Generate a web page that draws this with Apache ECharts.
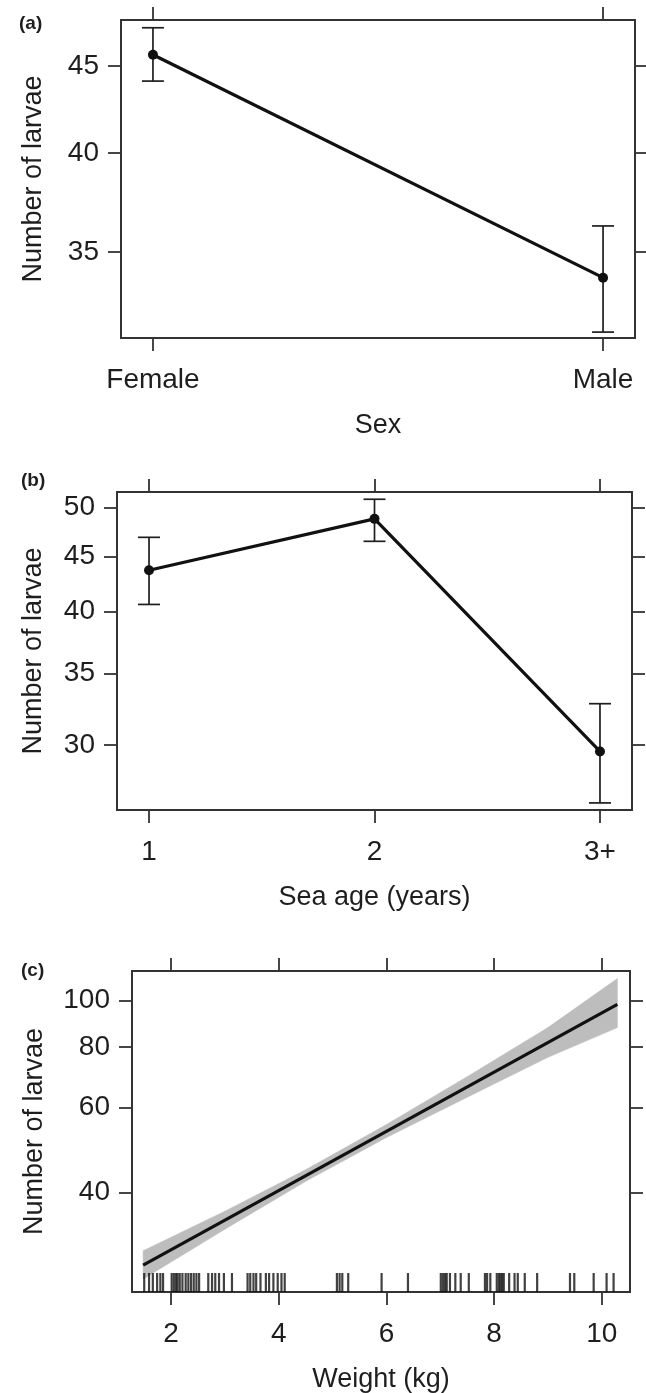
<!DOCTYPE html>
<html>
<head>
<meta charset="utf-8">
<script src="https://cdn.jsdelivr.net/npm/echarts@6/dist/echarts.min.js"></script>
<style>
  html, body { margin: 0; padding: 0; background: #fff; }
  #chart { width: 646px; height: 1393px; }
</style>
</head>
<body>
<div id="chart"></div>
<script>
// (a) number of larvae by sex
const sexLabels = ['Female', 'Male'];
const sexMean = [45.7, 33.8];
const sexLower = [44.1, 31.4];
const sexUpper = [47.4, 36.25];
const sexTicks = [35, 40, 45];

// (b) number of larvae by sea age
const ageLabels = ['1', '2', '3+'];
const ageMean = [43.7, 48.8, 29.6];
const ageLower = [40.6, 46.5, 26.5];
const ageUpper = [46.9, 50.9, 32.8];
const ageTicks = [30, 35, 40, 45, 50];

// (c) number of larvae vs weight (fit, confidence band, rug of observed weights)
const fitWeight = [1.48, 10.29];
const fitLarvae = [28.3, 98.1];
const bandWeight = [1.48, 3, 4.5, 6, 7.5, 9, 10.29];
const bandLower = [26.5, 33.6, 42.2, 52.0, 63.0, 76.2, 87.8];
const bandUpper = [30.3, 36.6, 44.6, 55.3, 69.5, 87.8, 110.9];
const rugWeight = [1.50, 1.59, 1.66, 1.74, 1.80, 1.85,
  2.01, 2.05, 2.09, 2.12, 2.16, 2.21, 2.27, 2.32, 2.37, 2.42, 2.47, 2.52,
  2.69, 2.76, 2.82, 2.89, 2.98, 3.13, 3.42, 3.47, 3.53, 3.58, 3.66, 3.76,
  3.82, 3.90, 3.98, 4.05, 4.11, 5.08, 5.13, 5.18, 5.29, 5.91, 6.40,
  7.01, 7.05, 7.09, 7.12, 7.18, 7.28, 7.38, 7.53, 7.83, 7.87, 7.93,
  8.05, 8.09, 8.12, 8.15, 8.18, 8.28, 8.38, 8.44, 8.57, 8.80,
  9.41, 9.49, 9.85, 10.09, 10.22];
const weightTicks = [2, 4, 6, 8, 10];
const larvaeTicks = [40, 60, 80, 100];

const L = Math.log10;
const font = 'Liberation Sans, Arial, Helvetica, sans-serif';
const ink = '#1e1e1e';
const tickStyle = { color: '#333', width: 1.8 };

// y axes are linear in log10(count), labels show the count
function yAxes(grid, min, max, ticks, nameGap) {
  const vals = ticks.map(L);
  return [{
    type: 'value', gridIndex: grid, position: 'left', min: L(min), max: L(max),
    name: 'Number of larvae', nameLocation: 'middle', nameGap: nameGap,
    nameTextStyle: { fontFamily: font, fontSize: 27, color: ink },
    axisLine: { show: false, onZero: false }, splitLine: { show: false },
    axisTick: { show: true, length: 13, lineStyle: tickStyle, customValues: vals },
    axisLabel: { customValues: vals, margin: 22, fontFamily: font, fontSize: 28, color: ink,
      formatter: v => String(Math.round(Math.pow(10, v))) }
  }, {
    type: 'value', gridIndex: grid, position: 'right', min: L(min), max: L(max),
    axisLine: { show: false, onZero: false }, splitLine: { show: false },
    axisTick: { show: true, length: 13, lineStyle: tickStyle, customValues: vals },
    axisLabel: { show: false }
  }];
}

function xAxes(grid, min, max, ticks, labels, name) {
  return [{
    type: 'value', gridIndex: grid, position: 'bottom', min: min, max: max,
    name: name, nameLocation: 'middle', nameGap: 74,
    nameTextStyle: { fontFamily: font, fontSize: 27, color: ink },
    axisLine: { show: false, onZero: false }, splitLine: { show: false },
    axisTick: { show: true, length: 13, lineStyle: tickStyle, customValues: ticks },
    axisLabel: { customValues: ticks, margin: 28, fontFamily: font, fontSize: 28, color: ink,
      formatter: v => labels ? labels[ticks.indexOf(v)] : String(v) }
  }, {
    type: 'value', gridIndex: grid, position: 'top', min: min, max: max,
    axisLine: { show: false, onZero: false }, splitLine: { show: false },
    axisTick: { show: true, length: 13, lineStyle: tickStyle, customValues: ticks },
    axisLabel: { show: false }
  }];
}

function errorBars(axisIndex, xs, lower, upper) {
  return {
    type: 'custom', xAxisIndex: axisIndex, yAxisIndex: axisIndex, z: 3,
    data: xs.map((x, i) => [x, L(lower[i]), L(upper[i])]),
    renderItem: (params, api) => {
      const lo = api.coord([api.value(0), api.value(1)]);
      const hi = api.coord([api.value(0), api.value(2)]);
      const w = 11;
      const style = { stroke: ink, lineWidth: 1.7 };
      return { type: 'group', children: [
        { type: 'line', shape: { x1: lo[0], y1: lo[1], x2: hi[0], y2: hi[1] }, style },
        { type: 'line', shape: { x1: lo[0] - w, y1: lo[1], x2: lo[0] + w, y2: lo[1] }, style },
        { type: 'line', shape: { x1: hi[0] - w, y1: hi[1], x2: hi[0] + w, y2: hi[1] }, style }
      ] };
    }
  };
}

function meanLine(axisIndex, xs, means) {
  return {
    type: 'line', xAxisIndex: axisIndex, yAxisIndex: axisIndex, z: 4,
    data: xs.map((x, i) => [x, L(means[i])]),
    symbol: 'circle', symbolSize: 10, showSymbol: true,
    lineStyle: { color: '#111', width: 3.2 },
    itemStyle: { color: '#111' }
  };
}

// confidence band: one quad per pair of neighbouring band points
const bandSegments = bandWeight.slice(0, -1).map((w, i) => [
  w, L(bandLower[i]), L(bandUpper[i]),
  bandWeight[i + 1], L(bandLower[i + 1]), L(bandUpper[i + 1])
]);

const sexX = sexLabels.map((_, i) => i);
const ageX = ageLabels.map((_, i) => i + 1);

const chart = echarts.init(document.getElementById('chart'), null, { renderer: 'canvas' });

const gridBase = { show: true, borderColor: '#333', borderWidth: 2, backgroundColor: '#fff',
  containLabel: false, outerBoundsMode: 'none' };

const yA = yAxes(0, 31.15, 47.9, sexTicks, 74);
const yB = yAxes(1, 26.1, 51.7, ageTicks, 70);
const yC = yAxes(2, 24.9, 115, larvaeTicks, 84);

const option = {
  animation: false,
  backgroundColor: '#fff',
  textStyle: { fontFamily: font },
  title: [
    { text: '(a)', left: 14, top: 9, textStyle: { fontFamily: font, fontSize: 19, fontWeight: 'bold', color: ink } },
    { text: '(b)', left: 16, top: 466, textStyle: { fontFamily: font, fontSize: 19, fontWeight: 'bold', color: ink } },
    { text: '(c)', left: 16, top: 956, textStyle: { fontFamily: font, fontSize: 19, fontWeight: 'bold', color: ink } }
  ],
  grid: [
    Object.assign({ left: 121, top: 20, width: 514, height: 318 }, gridBase),
    Object.assign({ left: 117, top: 492, width: 515, height: 318 }, gridBase),
    Object.assign({ left: 132, top: 971, width: 498, height: 321 }, gridBase)
  ],
  xAxis: [].concat(
    xAxes(0, -0.071, 1.071, sexX, sexLabels, 'Sex'),
    xAxes(1, 0.858, 3.142, ageX, ageLabels, 'Sea age (years)'),
    xAxes(2, 1.273, 10.525, weightTicks, null, 'Weight (kg)')
  ),
  yAxis: [yA[0], yA[1], yB[0], yB[1], yC[0], yC[1]],
  series: [
    errorBars(0, sexX, sexLower, sexUpper),
    meanLine(0, sexX, sexMean),
    errorBars(2, ageX, ageLower, ageUpper),
    meanLine(2, ageX, ageMean),
    {
      type: 'custom', xAxisIndex: 4, yAxisIndex: 4, z: 2,
      data: bandSegments,
      renderItem: (params, api) => {
        const a = api.coord([api.value(0), api.value(1)]);
        const b = api.coord([api.value(0), api.value(2)]);
        const c = api.coord([api.value(3), api.value(5)]);
        const d = api.coord([api.value(3), api.value(4)]);
        return {
          type: 'polygon', shape: { points: [a, b, c, d] },
          style: { fill: '#bdbdbd', stroke: '#bdbdbd', lineWidth: 0.6 }
        };
      }
    },
    {
      type: 'line', xAxisIndex: 4, yAxisIndex: 4, symbol: 'none', z: 4,
      data: fitWeight.map((w, i) => [w, L(fitLarvae[i])]),
      lineStyle: { color: '#111', width: 3.2 }
    },
    {
      type: 'scatter', xAxisIndex: 4, yAxisIndex: 4, clip: false, z: 4,
      symbol: 'rect', symbolSize: [2.2, 19], symbolOffset: [0, -9.5],
      data: rugWeight.map(w => [w, L(24.9)]),
      itemStyle: { color: '#111' }
    }
  ]
};

chart.setOption(option);
</script>
</body>
</html>
